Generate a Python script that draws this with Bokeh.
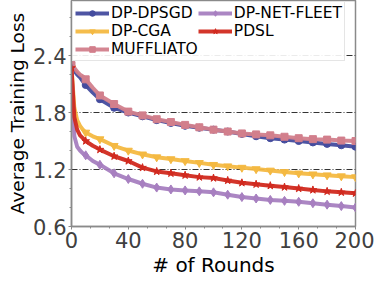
from bokeh.plotting import figure
from bokeh.models import FixedTicker, Range1d, Legend
from bokeh.embed import file_html
from bokeh.resources import INLINE

rounds = [0, 2, 4, 6, 8, 10, 15, 20, 30, 40, 50, 60, 70, 80, 90, 100, 110, 120, 130, 140, 150, 160, 170, 180, 190, 200]
dpsgd = [2.27, 2.24, 2.20, 2.17, 2.13, 2.09, 2.01, 1.94, 1.85, 1.80, 1.76, 1.72, 1.69, 1.66, 1.64, 1.62, 1.60, 1.575, 1.55, 1.53, 1.515, 1.50, 1.485, 1.47, 1.455, 1.44]
cga = [2.27, 1.85, 1.72, 1.66, 1.62, 1.59, 1.55, 1.52, 1.45, 1.40, 1.36, 1.33, 1.31, 1.29, 1.27, 1.25, 1.235, 1.22, 1.205, 1.19, 1.175, 1.16, 1.15, 1.14, 1.13, 1.12]
muffliato = [2.30, 2.27, 2.23, 2.20, 2.18, 2.15, 2.06, 1.98, 1.89, 1.81, 1.77, 1.73, 1.70, 1.67, 1.645, 1.62, 1.60, 1.58, 1.57, 1.56, 1.545, 1.53, 1.52, 1.515, 1.505, 1.50]
netfleet = [2.27, 1.55, 1.44, 1.40, 1.37, 1.35, 1.29, 1.25, 1.16, 1.10, 1.05, 1.01, 0.99, 0.98, 0.97, 0.96, 0.935, 0.91, 0.895, 0.88, 0.87, 0.86, 0.845, 0.83, 0.815, 0.80]
pdsl = [2.27, 1.75, 1.62, 1.56, 1.53, 1.50, 1.45, 1.41, 1.34, 1.29, 1.22, 1.18, 1.16, 1.14, 1.12, 1.11, 1.085, 1.06, 1.045, 1.03, 1.015, 1.00, 0.985, 0.97, 0.96, 0.95]

x_ticks = [0, 40, 80, 120, 160, 200]
y_ticks = [0.6, 1.2, 1.8, 2.4]

series = [
    ("DP-DPSGD", dpsgd, "#444c9e", "circle", 7),
    ("DP-CGA", cga, "#f4b942", "inverted_triangle", 8),
    ("MUFFLIATO", muffliato, "#d27f8c", "square", 7),
    ("DP-NET-FLEET", netfleet, "#a77fc0", "diamond", 9),
    ("PDSL", pdsl, "#d12a1f", "star", 8),
]

FONT = "DejaVu Sans"

p = figure(width=374, height=279, output_backend="svg", toolbar_location=None,
           x_range=Range1d(0, 200), y_range=Range1d(0.6, 2.98),
           min_border_left=71, min_border_right=19, min_border_top=0, min_border_bottom=47)

items = []
for name, vals, color, marker, size in series:
    r1 = p.line(rounds, vals, line_color=color, line_width=4, line_alpha=0.95)
    mx = [r for r in rounds if r % 10 == 0]
    my = [v for r, v in zip(rounds, vals) if r % 10 == 0]
    r2 = p.scatter(mx, my, marker=marker, size=size, fill_color=color, line_color=color)
    items.append((name, [r1, r2]))

legend = Legend(items=items, location="top_left", nrows=3,
                label_text_font=FONT, label_text_font_size="15.5px", label_text_color="black",
                glyph_width=34, glyph_height=14, label_standoff=2, spacing=0,
                padding=2, margin=1, border_line_color="#cccccc", background_fill_alpha=0.9,
                label_height=14)
p.add_layout(legend)

p.xaxis.ticker = FixedTicker(ticks=x_ticks, minor_ticks=[i * 40 / 3 for i in range(16)])
p.yaxis.ticker = FixedTicker(ticks=y_ticks, minor_ticks=[0.6 + 0.2 * i for i in range(13)])

for ax in (p.xaxis[0], p.yaxis[0]):
    ax.major_label_text_font = FONT
    ax.major_label_text_font_size = "21px"
    ax.major_label_text_color = "#404040"
    ax.axis_label_text_font = FONT
    ax.axis_label_text_font_style = "normal"
    ax.axis_label_text_color = "black"
    ax.axis_line_color = "#8a8a8a"
    ax.axis_line_width = 1.5
    ax.major_tick_line_color = "#8a8a8a"
    ax.minor_tick_line_color = "#8a8a8a"
    ax.major_tick_in = 0
    ax.major_tick_out = 3
    ax.minor_tick_in = 0
    ax.minor_tick_out = 2

p.xaxis.axis_label = "# of Rounds"
p.yaxis.axis_label = "Average Training Loss"
p.xaxis.axis_label_text_font_size = "20px"
p.yaxis.axis_label_text_font_size = "18.5px"
p.xaxis.major_label_standoff = 2
p.yaxis.major_label_standoff = 2
p.xaxis.axis_label_standoff = 2
p.yaxis.axis_label_standoff = 2

p.xgrid.visible = False
p.ygrid.grid_line_color = "#333333"
p.ygrid.grid_line_dash = "6 2 1 2"
p.ygrid.grid_line_width = 1
p.outline_line_color = "#8a8a8a"
p.outline_line_width = 1.5

open("out.html", "w").write(file_html(p, INLINE))
